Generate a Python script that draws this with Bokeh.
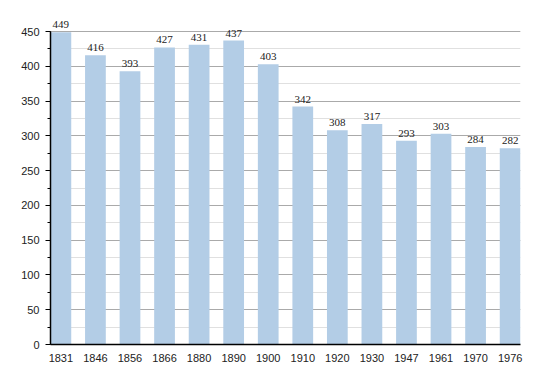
from bokeh.plotting import figure
from bokeh.models import ColumnDataSource, LabelSet, FixedTicker, Range1d
from bokeh.embed import file_html
from bokeh.resources import INLINE

years = ["1831", "1846", "1856", "1866", "1880", "1890", "1900", "1910",
         "1920", "1930", "1947", "1961", "1970", "1976"]
population = [449, 416, 393, 427, 431, 437, 403, 342, 308, 317, 293, 303, 284, 282]

xs = list(range(len(years)))
src = ColumnDataSource(dict(x=xs, y=population, lbl=[str(v) for v in population]))

y_top = 450 * 332 / 313  # extra headroom above 450 for the value labels

p = figure(width=542, height=365, output_backend="svg", toolbar_location=None,
           x_range=Range1d(-0.3, len(years) - 0.7), y_range=Range1d(0, y_top),
           min_border_left=50, min_border_right=22, min_border_top=12, min_border_bottom=21)
p.outline_line_color = None
p.background_fill_color = "white"

p.vbar(x="x", top="y", width=0.6, source=src, fill_color="#b3cde6", line_color=None)

labels = LabelSet(x="x", y="y", text="lbl", source=src, text_align="center",
                  text_baseline="bottom", y_offset=4, text_font_size="11px",
                  text_font="Liberation Sans", text_color="#222222")
p.add_layout(labels)

p.xaxis.ticker = FixedTicker(ticks=xs)
p.xaxis.major_label_overrides = {i: y for i, y in enumerate(years)}
p.xaxis.major_tick_line_color = None
p.xaxis.minor_tick_line_color = None
p.xaxis.major_label_standoff = 3
p.xaxis.axis_line_color = "black"
p.xaxis.axis_line_width = 1.5
p.xgrid.grid_line_color = None

p.yaxis.ticker = FixedTicker(ticks=list(range(0, 451, 50)), minor_ticks=list(range(0, 451, 25)))
p.yaxis.bounds = (0, 450)
p.yaxis.major_tick_in = 0
p.yaxis.major_tick_out = 5
p.yaxis.minor_tick_in = 0
p.yaxis.minor_tick_out = 3
p.yaxis.major_label_standoff = 6
p.yaxis.axis_line_color = "black"
p.yaxis.axis_line_width = 1.5
p.ygrid.grid_line_color = "#aaaaaa"
p.ygrid.minor_grid_line_color = "#e0e0e0"

for ax in (p.xaxis, p.yaxis):
    ax.major_label_text_font = "Liberation Sans"
    ax.major_label_text_font_size = "11px"
    ax.major_label_text_color = "#222222"

open("out.html", "w").write(file_html(p, INLINE))
